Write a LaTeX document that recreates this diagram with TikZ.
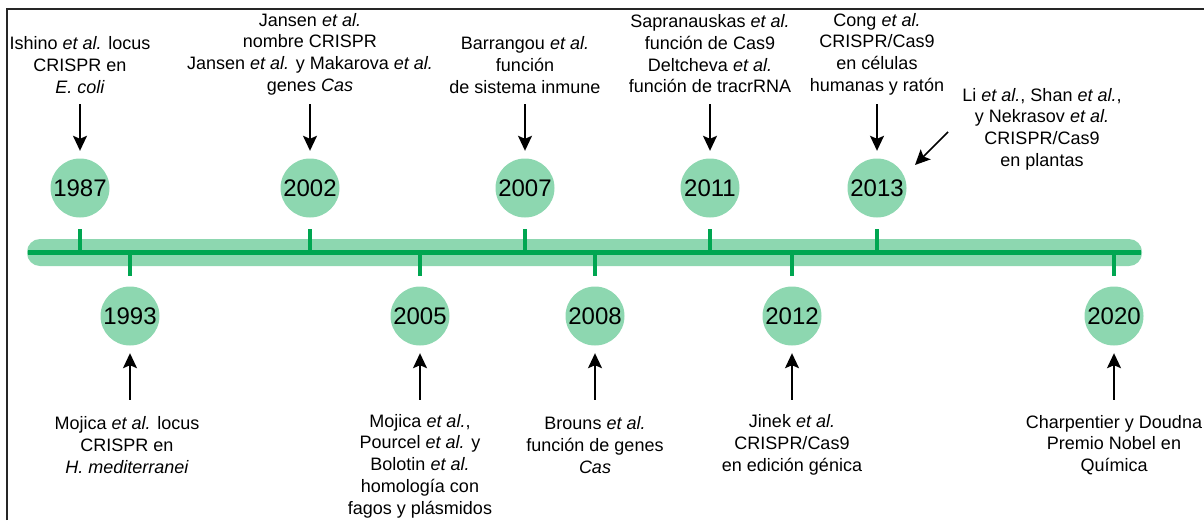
\documentclass[tikz,border=0pt]{standalone}
\usepackage{fontspec}
\setmainfont{Liberation Sans}
\usetikzlibrary{arrows.meta}
\definecolor{lightg}{HTML}{8DD7B0}
\definecolor{darkg}{HTML}{00A651}
\newcommand{\ea}{\textit{et al.}}
\begin{document}
\begin{tikzpicture}[x=1pt,y=-1pt,
  yearc/.style={circle, fill=lightg, minimum size=59pt, inner sep=0pt, font=\fontsize{24}{28}\selectfont},
  lbl/.style={align=center, inner sep=0pt, font=\fontsize{18}{21.7}\selectfont},
  arr/.style={line width=1.6pt, -{Stealth[length=15pt,width=14pt,inset=3pt]}},
  tickl/.style={darkg, line width=4pt}]
\useasboundingbox (0,0) rectangle (1204,520);
\draw[line width=2pt, black!85] (7,520) -- (7,9) -- (1204,9);
% bar
\fill[lightg, rounded corners=13pt] (27,239) rectangle (1142,266);
\draw[darkg, line width=4.5pt] (28,252.5) -- (1141,252.5);
% year circles
\node[yearc] (y1987) at (80,188) {1987};
\node[yearc] (y2002) at (310,188) {2002};
\node[yearc] (y2007) at (525,188) {2007};
\node[yearc] (y2011) at (710,188) {2011};
\node[yearc] (y2013) at (877,188) {2013};
\node[yearc] (y1993) at (130,316) {1993};
\node[yearc] (y2005) at (420,316) {2005};
\node[yearc] (y2008) at (595,316) {2008};
\node[yearc] (y2012) at (792,316) {2012};
\node[yearc] (y2020) at (1114,316) {2020};
% ticks
\foreach \n in {1987,2002,2007,2011,2013}
  \draw[tickl] (y\n |- 0,229) -- (y\n |- 0,252.5);
\foreach \n in {1993,2005,2008,2012,2020}
  \draw[tickl] (y\n |- 0,252.5) -- (y\n |- 0,276);
% labels
\node[lbl] (t1987) at (80,65) {Ishino \ea{} locus\\CRISPR en\\\textit{E. coli}};
\node[lbl] (t2002) at (310,54) {Jansen \ea\\nombre CRISPR\\Jansen \ea{} y Makarova \ea\\genes \textit{Cas}};
\node[lbl] (t2007) at (525,65) {Barrangou \ea\\función\\de sistema inmune};
\node[lbl] (t2011) at (710,54) {Sapranauskas \ea\\función de Cas9\\Deltcheva \ea\\función de tracrRNA};
\node[lbl] (t2013) at (877,54) {Cong \ea\\CRISPR/Cas9\\en células\\humanas y ratón};
\node[lbl] (tli) at (1042,129) {Li \textit{et al.}, Shan \textit{et al.},\\y Nekrasov \ea\\CRISPR/Cas9\\en plantas};
\node[lbl] (t1993) at (127,445) {Mojica \ea{} locus\\CRISPR en\\\textit{H. mediterranei}};
\node[lbl] (t2005) at (420,466) {Mojica \textit{et al.},\\Pourcel \ea{} y\\Bolotin \ea\\homología con\\fagos y plásmidos};
\node[lbl] (t2008) at (595,445) {Brouns \ea\\función de genes\\\textit{Cas}};
\node[lbl] (t2012) at (792,445) {Jinek \ea\\CRISPR/Cas9\\en edición génica};
\node[lbl] (t2020) at (1114,445) {Charpentier y Doudna\\Premio Nobel en\\Química};
% arrows
\foreach \n in {1987,2002,2007,2011,2013}
  \draw[arr, shorten >=7.5pt] ([yshift=54pt]y\n.north) -- (y\n.north);
\foreach \n in {1993,2005,2008,2012,2020}
  \draw[arr, shorten >=7.5pt] ([yshift=-54pt]y\n.south) -- (y\n.south);
\coordinate (lis) at (948,132);
\coordinate (lie) at (915,165);
\draw[arr] (lis) -- (lie);
\end{tikzpicture}
\end{document}
